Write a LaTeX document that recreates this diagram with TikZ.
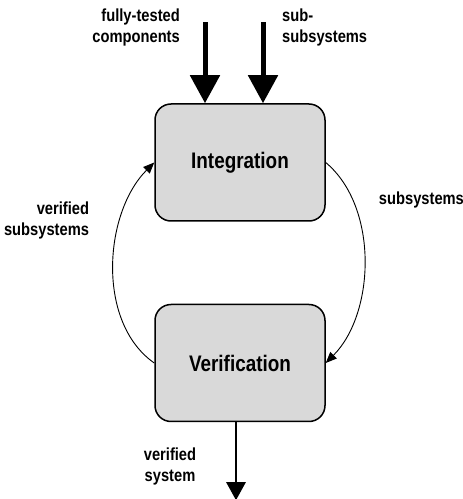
\documentclass[tikz,border=0pt]{standalone}
\usepackage{fontspec}
\setmainfont{Liberation Sans}[FakeStretch=0.84]
\usepackage{tikz}
\usetikzlibrary{arrows.meta, positioning}

\begin{document}
\begin{tikzpicture}[
  node distance = 82pt,
  box/.style = {rectangle, draw, line width=1.5pt, rounded corners=16pt,
                fill=black!15, minimum width=170pt, minimum height=117pt,
                font=\bfseries\fontsize{22.5}{26}\selectfont},
  lbl/.style = {font=\bfseries\fontsize{17.5}{21.5}\selectfont, inner sep=0pt},
  bigarr/.style = {-{Triangle[length=28pt, width=29pt]}, line width=5pt},
  outarr/.style = {-{Triangle[length=18pt, width=19pt]}, line width=2.6pt},
  arr/.style = {-{Triangle[length=11pt, width=9pt]}, line width=0.9pt}
]
  \useasboundingbox (0,0) rectangle (463pt,499pt);

  \node[box] (int) at (240pt,336.5pt) {Integration};
  \node[box, below=of int] (ver) {Verification};

  % inputs from the top
  \coordinate[above=81pt of int.north, xshift=-35pt] (srcA);
  \coordinate[above=81pt of int.north, xshift=23pt]  (srcB);
  \draw[bigarr] (srcA) -- (srcA |- int.north);
  \draw[bigarr] (srcB) -- (srcB |- int.north);
  \node[lbl, align=right, anchor=east] (lblA) at ([xshift=-25pt, yshift=-5pt]srcA) {fully-tested\\components};
  \node[lbl, align=left, anchor=west]  (lblB) at ([xshift=19pt, yshift=-5pt]srcB)  {sub-\\subsystems};

  % loop between the two boxes
  \draw[arr] (int.east) to[out=-40, in=45, looseness=0.89] (ver.east);
  \draw[arr] (ver.west) to[out=145, in=225, looseness=0.91] (int.west);
  \node[lbl, anchor=west] (lblR) at ([xshift=53pt, yshift=-37pt]int.east) {subsystems};
  \node[lbl, align=right, anchor=east] (lblL) at ([xshift=-65pt, yshift=-58pt]int.west) {verified\\subsystems};

  % output
  \coordinate[below=78pt of ver.south, xshift=-4pt] (sink);
  \draw[outarr] ([xshift=-4pt]ver.south) -- (sink);
  \node[lbl, align=center] (lblOut) at ([xshift=-70pt, yshift=-44pt]ver.south) {verified\\system};
\end{tikzpicture}
\end{document}
